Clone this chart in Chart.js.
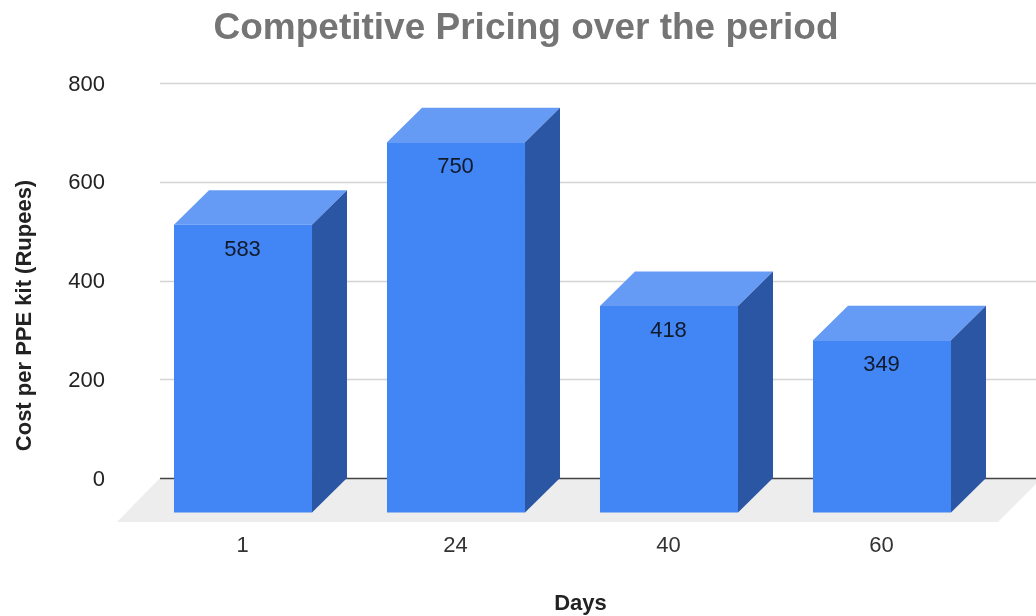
<!DOCTYPE html>
<html><head><meta charset="utf-8">
<script src="https://cdn.jsdelivr.net/npm/chart.js@4"></script>
<style>html,body{margin:0;padding:0;background:#fff}canvas{display:block}</style>
</head><body><canvas id="c" width="1036" height="616"></canvas>
<script>
const categories = ['1','24','40','60'];
const costValues = [583,750,418,349];
const yTicks = [0,200,400,600,800];
const titleText = 'Competitive Pricing over the period';
const xTitle = 'Days';
const yTitle = 'Cost per PPE kit (Rupees)';
const DX = 35, DY = 34.5;
const FRONT='#4285f4', TOP='#669bf5', SIDE='#2a56a3';
const FONT='"Liberation Sans", Arial, sans-serif';

function shiftDraw(s,name,dx,dy){
  const key='_shift_'+name;
  if(s[key]) return;
  s[key]=true;
  const orig=s[name];
  s[name]=function(...a){
    const ctx=this.ctx;
    ctx.save();ctx.translate(dx,dy);orig.apply(this,a);ctx.restore();
  };
}

const box3d = {
  id:'box3d',
  beforeDraw(chart){
    const {ctx,scales:{y}} = chart;
    const y0 = y.getPixelForValue(0);
    ctx.save();
    ctx.fillStyle='#ededed';
    ctx.beginPath();
    ctx.moveTo(160,y0);ctx.lineTo(1036,y0);ctx.lineTo(1036,y0+6);ctx.lineTo(998,y0+44);ctx.lineTo(117,y0+44);
    ctx.closePath();ctx.fill();
    yTicks.forEach(v=>{
      const p=Math.round(y.getPixelForValue(v))+0.5;
      ctx.strokeStyle= v===0?'#444444':'#d4d4d4';
      ctx.lineWidth=1.5;
      ctx.beginPath();ctx.moveTo(160,p);ctx.lineTo(1036,p);ctx.stroke();
    });
    ctx.restore();
  },
  beforeDatasetDraw(chart){
    const ctx=chart.ctx;
    ctx.save();
    chart.getDatasetMeta(0).data.forEach(b=>{
      const l=b.x-b.width/2, r=b.x+b.width/2;
      ctx.fillStyle=TOP;
      ctx.beginPath();ctx.moveTo(l,b.y);ctx.lineTo(r,b.y);ctx.lineTo(r-DX,b.y+DY);ctx.lineTo(l-DX,b.y+DY);ctx.closePath();ctx.fill();
      ctx.fillStyle=SIDE;
      ctx.beginPath();ctx.moveTo(r,b.y);ctx.lineTo(r,b.base);ctx.lineTo(r-DX,b.base+DY);ctx.lineTo(r-DX,b.y+DY);ctx.closePath();ctx.fill();
    });
    ctx.restore();
    ctx.save();
    ctx.translate(-DX,DY);
  },
  afterDatasetDraw(chart){ chart.ctx.restore(); },
  afterDatasetsDraw(chart){
    const ctx=chart.ctx;
    ctx.save();
    ctx.font='22px '+FONT;ctx.fillStyle='#111a2a';ctx.textAlign='center';ctx.textBaseline='middle';
    chart.getDatasetMeta(0).data.forEach((b,i)=>{
      ctx.fillText(String(costValues[i]),b.x-DX-0.5,b.y+DY+25);
    });
    ctx.restore();
  }
};

new Chart(document.getElementById('c'),{
  type:'bar',
  data:{labels:categories,datasets:[{data:costValues,backgroundColor:FRONT,borderWidth:0,categoryPercentage:1,barPercentage:0.648,clip:false}]},
  plugins:[box3d],
  options:{
    responsive:false,animation:false,
    layout:{padding:{left:28.5,right:12.5,top:0,bottom:0}},
    plugins:{
      legend:{display:false},tooltip:{enabled:false},
      title:{display:true,text:titleText,color:'#757575',font:{family:FONT,size:37,weight:'bold',lineHeight:1.2},padding:{top:7,bottom:31.6}}
    },
    scales:{
      x:{
        grid:{display:false,drawTicks:false},border:{display:false},
        ticks:{font:{family:FONT,size:22},color:'#333',padding:55,labelOffset:-35.5,maxRotation:0,autoSkip:false},
        title:{display:true,text:xTitle,color:'#222',font:{family:FONT,size:22,weight:'bold'},padding:{top:0,bottom:1}},
        afterFit(s){s.height=138;s.paddingLeft=0;s.paddingRight=0;shiftDraw(s,'drawTitle',-17,2);}
      },
      y:{
        min:0,max:800,
        grid:{display:false,drawTicks:false},border:{display:false},
        afterBuildTicks(s){s.ticks=yTicks.map(v=>({value:v}));},
        ticks:{font:{family:FONT,size:22},color:'#222',padding:66.5},
        title:{display:true,text:yTitle,color:'#222',font:{family:FONT,size:22,weight:'bold'},padding:{top:-18,bottom:0}},
        afterFit(s){s.width=143;s.paddingTop=0;s.paddingBottom=0;shiftDraw(s,'drawTitle',1,35);shiftDraw(s,'drawLabels',0,1.5);}
      }
    }
  }
});
</script></body></html>
